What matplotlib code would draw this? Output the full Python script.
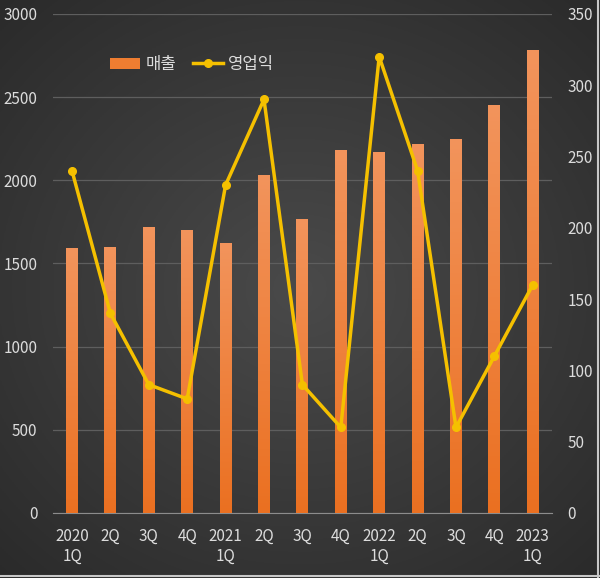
import numpy as np
import matplotlib.pyplot as plt
from matplotlib.lines import Line2D
from matplotlib.patches import Patch

plt.rcParams['font.family'] = ['Noto Sans CJK KR', 'DejaVu Sans']

quarters = ["2020\n1Q", "2Q", "3Q", "4Q", "2021\n1Q", "2Q", "3Q", "4Q",
            "2022\n1Q", "2Q", "3Q", "4Q", "2023\n1Q"]
sales = [1590, 1600, 1720, 1700, 1620, 2030, 1770, 2180, 2170, 2215, 2250, 2450, 2780]
profit = [240, 140, 90, 80, 230, 290, 90, 60, 320, 240, 60, 110, 160]

txt = "#dcdcdc"

fig = plt.figure(figsize=(6, 5.78), dpi=100)

# radial gradient background
bg = fig.add_axes([0, 0, 1, 1], zorder=-10)
yy, xx = np.mgrid[-1:1:300j, -1:1:300j]
r = np.sqrt(xx**2 * 0.9 + yy**2)
shade = np.clip(0.29 - 0.09 * r, 0.165, 0.29)
bg.imshow(np.dstack([shade, shade, shade]), extent=[0, 1, 0, 1], aspect="auto")
bg.set_xlim(0, 1)
bg.set_ylim(0, 1)
bg.axis("off")
bg.plot([0.997, 0.997], [0, 1], color="#c8c8c8", linewidth=1.5)
bg.plot([0, 1], [0.003, 0.003], color="#c8c8c8", linewidth=1.5)

ax = fig.add_axes([0.088, 0.1125, 0.832, 0.8635])
ax.set_facecolor("none")
x = np.arange(len(quarters))
bars = ax.bar(x, sales, width=0.31, color="#ee7d31", zorder=2)

grad = np.linspace(0, 1, 100).reshape(-1, 1)
top = np.array([0.95, 0.58, 0.36])
bot = np.array([0.92, 0.44, 0.13])
img = top * (1 - grad[..., None]) + bot * grad[..., None]
for b in bars:
    x0, y0 = b.get_x(), b.get_y()
    im = ax.imshow(img, extent=[x0, x0 + b.get_width(), y0, y0 + b.get_height()],
                   aspect="auto", zorder=3)
    im.set_clip_path(b)

ax.set_xlim(-0.5, len(quarters) - 0.5)
ax.set_ylim(0, 3000)
ax.set_yticks(range(0, 3001, 500))
ax.grid(axis="y", color="#5e5e5e", linewidth=0.9, zorder=0)
ax.set_xticks(x)
ax.set_xticklabels(quarters, multialignment="center")
ax.tick_params(length=0, colors=txt, labelsize=11)
ax.tick_params(axis="y", pad=11)
ax.tick_params(axis="x", pad=11)
for s in ["top", "left", "right"]:
    ax.spines[s].set_visible(False)
ax.spines["bottom"].set_color("#8c8c8c")

ax2 = ax.twinx()
ax2.plot(x, profit, color="#f5c000", linewidth=2.5, marker="o", markersize=5.5, zorder=5)
ax2.set_ylim(0, 350)
ax2.set_yticks(range(0, 351, 50))
ax2.tick_params(length=0, colors=txt, labelsize=11, pad=11)
for s in ax2.spines.values():
    s.set_visible(False)

handles = [Patch(facecolor="#ee7d31", edgecolor="none"),
           Line2D([], [], color="#f5c000", linewidth=2.5, marker="o", markersize=5.5)]
ax.legend(handles, ["매출", "영업익"], loc="upper left", bbox_to_anchor=(0.085, 0.945),
          ncol=2, frameon=False, fontsize=12, labelcolor=txt,
          handlelength=1.8, handletextpad=0.3, columnspacing=1.0)

fig.savefig("out.png", dpi=100)
